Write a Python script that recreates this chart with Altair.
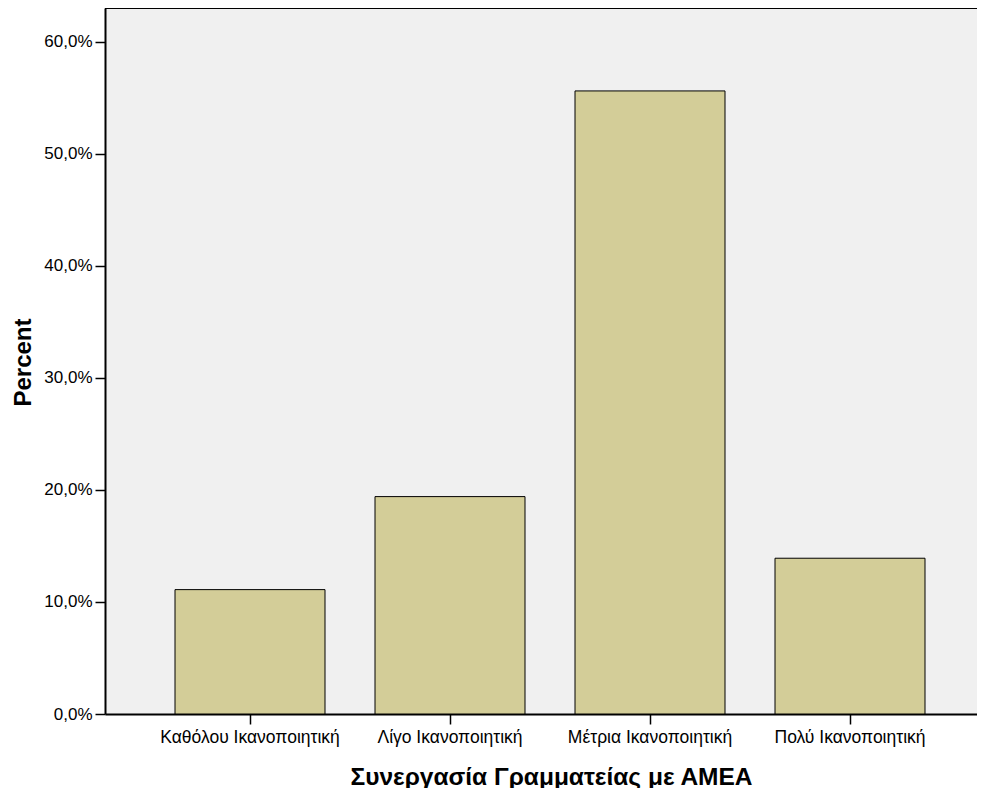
import altair as alt
import pandas as pd

categories = ["Καθόλου Ικανοποιητική", "Λίγο Ικανοποιητική", "Μέτρια Ικανοποιητική", "Πολύ Ικανοποιητική"]
percents = [11.1, 19.4, 55.6, 13.9]

df = pd.DataFrame({"cat": categories, "pct": percents})

label_expr = "replace(format(datum.value, '.1f'), '.', ',') + '%'"

bars = alt.Chart(df).mark_bar(
    color="#D3CD98", stroke="black", strokeWidth=1
).encode(
    x=alt.X("cat:N", sort=categories,
            scale=alt.Scale(paddingInner=0.25, paddingOuter=0.35, range=[0, 890]),
            axis=alt.Axis(title="Συνεργασία Γραμματείας με ΑΜΕΑ", labelAngle=0,
                          labelFont="Liberation Sans", labelFontSize=17.5, labelColor="black",
                          labelPadding=4, tickSize=10, tickColor="black", tickWidth=1.5,
                          domainColor="black", domainWidth=2,
                          titleFont="Liberation Sans", titleFontSize=24.5, titleFontWeight="bold",
                          titleColor="black", titleX=446, titleY=70, titleBaseline="alphabetic",
                          titleAnchor="start", titleAlign="center")),
    y=alt.Y("pct:Q", scale=alt.Scale(domain=[0, 63.0], nice=False),
            axis=alt.Axis(title="Percent", values=[0, 10, 20, 30, 40, 50, 60], labelExpr=label_expr,
                          labelFont="Liberation Sans", labelFontSize=17, labelColor="black",
                          labelPadding=3, tickSize=10, tickColor="black", tickWidth=1.5,
                          domainColor="black", domainWidth=2, grid=False,
                          titleFont="Liberation Sans", titleFontSize=24, titleFontWeight="bold",
                          titleColor="black", titleX=-75, titleY=354, titleBaseline="alphabetic",
                          titleAlign="center", titleAngle=270)),
)

top = alt.Chart(df).mark_rule(color="black", strokeWidth=2).encode(
    y=alt.value(0), x=alt.value(0), x2=alt.value(872)
)

chart = alt.layer(bars, top).properties(
    width=872, height=706,
    autosize=alt.AutoSizeParams(type="none"),
    padding={"left": 97, "top": 0, "right": 0, "bottom": 74},
).configure_view(
    fill="#F0F0F0", stroke=None
)

chart.save("out.html", embed_options={"renderer": "svg", "actions": False})
